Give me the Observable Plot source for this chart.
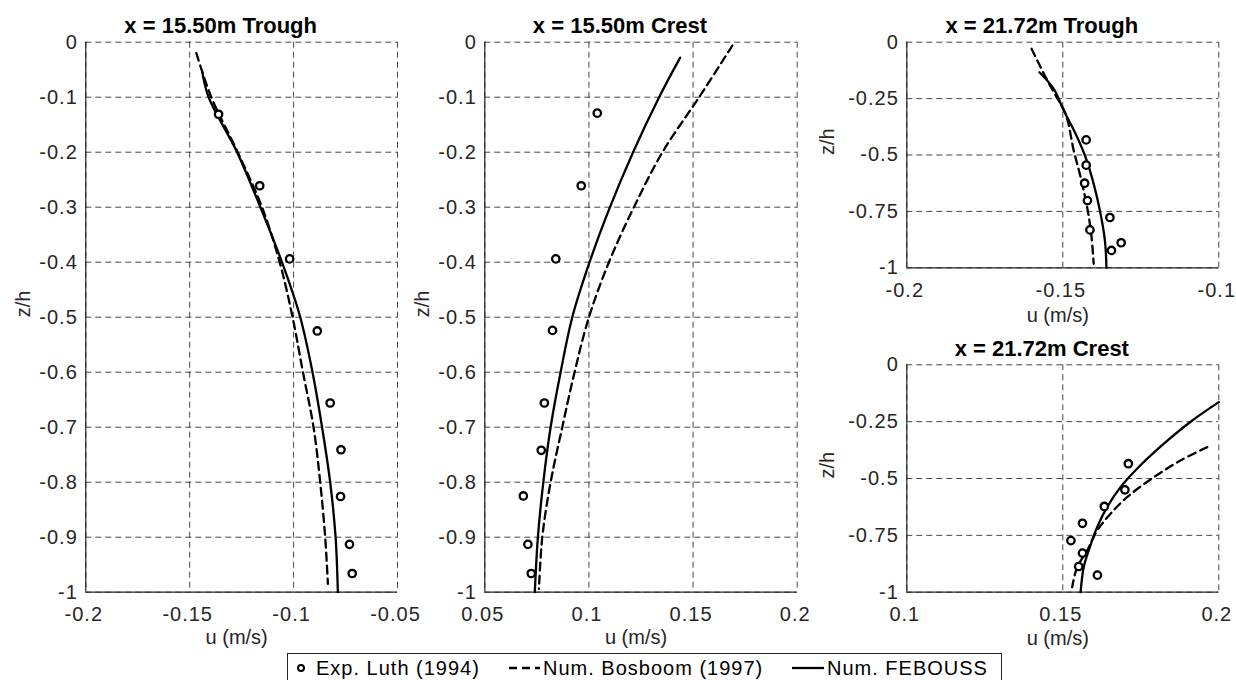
<!DOCTYPE html>
<html><head><meta charset="utf-8">
<script src="https://cdn.jsdelivr.net/npm/d3@7"></script>
<script src="https://cdn.jsdelivr.net/npm/@observablehq/plot@0.6"></script>
<style>
html,body{margin:0;padding:0;background:#fff;overflow:hidden}
#fig{position:relative;width:1236px;height:680px;overflow:hidden;font-family:"Liberation Sans",Arial,sans-serif}
.panel{position:absolute}
.panel svg{overflow:visible;display:block}
g[aria-label="x-axis tick label"] text,g[aria-label="y-axis tick label"] text,g[aria-label="axis-title"] text{letter-spacing:1px}
#legend{position:absolute;left:287px;top:653px;overflow:visible}
#legend text{font-family:"Liberation Sans",Arial,sans-serif;font-size:20px;letter-spacing:1px;fill:#000}
</style>
</head><body><div id="fig"></div>
<script>
// ---------- data ----------
// x = 15.50m Trough
const expU1 = [-0.1361,-0.1163,-0.1019,-0.0886,-0.0824,-0.0772,-0.0774,-0.0731,-0.0718];
const expZ1 = [-0.131,-0.261,-0.394,-0.525,-0.656,-0.741,-0.826,-0.913,-0.966];
const febU1 = [-0.1440,-0.1409,-0.1272,-0.1160,-0.1056,-0.0968,-0.0909,-0.0863,-0.0824,-0.0798,-0.0787];
const febZ1 = [-0.053,-0.1,-0.2,-0.3,-0.4,-0.5,-0.6,-0.7,-0.8,-0.9,-1];
const bosU1 = [-0.1468,-0.1396,-0.1269,-0.1152,-0.1067,-0.1005,-0.0955,-0.0904,-0.0872,-0.0848,-0.0835];
const bosZ1 = [-0.02,-0.1,-0.2,-0.3,-0.4,-0.5,-0.6,-0.7,-0.8,-0.9,-0.985];
// x = 15.50m Crest
const expU2 = [0.1040,0.0963,0.0841,0.0825,0.0786,0.0771,0.0685,0.0707,0.0723];
const expZ2 = [-0.129,-0.261,-0.394,-0.524,-0.656,-0.742,-0.825,-0.913,-0.966];
const febU2 = [0.1438,0.1337,0.1212,0.1101,0.1003,0.0920,0.0864,0.0816,0.0781,0.0755,0.0740];
const febZ2 = [-0.028,-0.1,-0.2,-0.3,-0.4,-0.5,-0.6,-0.7,-0.8,-0.9,-1];
const bosU2 = [0.1689,0.1529,0.1353,0.1216,0.1096,0.1000,0.0931,0.0872,0.0816,0.0776,0.0760];
const bosZ2 = [-0.006,-0.1,-0.2,-0.3,-0.4,-0.5,-0.6,-0.7,-0.8,-0.9,-0.994];
// x = 21.72m Trough
const expU3 = [-0.1425,-0.1425,-0.1430,-0.1421,-0.1349,-0.1413,-0.1313,-0.1344];
const expZ3 = [-0.433,-0.545,-0.625,-0.702,-0.777,-0.832,-0.889,-0.923];
const febU3 = [-0.1575,-0.1529,-0.1497,-0.1459,-0.1427,-0.1401,-0.1379,-0.1365,-0.1360];
const febZ3 = [-0.133,-0.207,-0.303,-0.406,-0.51,-0.628,-0.761,-0.879,-1];
const bosU3 = [-0.1600,-0.1555,-0.1529,-0.1491,-0.1465,-0.1443,-0.1422,-0.1409,-0.1401];
const bosZ3 = [-0.029,-0.155,-0.222,-0.318,-0.48,-0.598,-0.731,-0.849,-0.982];
// x = 21.72m Crest
const expU4 = [0.1710,0.1699,0.1633,0.1563,0.1526,0.1563,0.1551,0.1611];
const expZ4 = [-0.435,-0.550,-0.623,-0.697,-0.773,-0.828,-0.887,-0.925];
const febU4 = [0.2000,0.1915,0.1824,0.1738,0.1685,0.1642,0.1610,0.1583,0.1567,0.1557];
const febZ4 = [-0.164,-0.245,-0.347,-0.457,-0.538,-0.626,-0.714,-0.817,-0.89,-1];
const bosU4 = [0.1963,0.1877,0.1792,0.1706,0.1653,0.1610,0.1578,0.1546,0.1530];
const bosZ4 = [-0.362,-0.421,-0.494,-0.582,-0.655,-0.729,-0.817,-0.89,-0.978];

// titles and ticks
const titles = ["x = 15.50m Trough","x = 15.50m Crest","x = 21.72m Trough","x = 21.72m Crest"];
const xTicks1 = [-0.2,-0.15,-0.1,-0.05], xLabels1 = ["-0.2","-0.15","-0.1","-0.05"];
const xTicks2 = [0.05,0.1,0.15,0.2], xLabels2 = ["0.05","0.1","0.15","0.2"];
const xTicks3 = [-0.2,-0.15,-0.1], xLabels3 = ["-0.2","-0.15","-0.1"];
const xTicks4 = [0.1,0.15,0.2], xLabels4 = ["0.1","0.15","0.2"];
const yTicksA = [0,-0.1,-0.2,-0.3,-0.4,-0.5,-0.6,-0.7,-0.8,-0.9,-1];
const yLabelsA = ["0","-0.1","-0.2","-0.3","-0.4","-0.5","-0.6","-0.7","-0.8","-0.9","-1"];
const yTicksB = [0,-0.25,-0.5,-0.75,-1];
const yLabelsB = ["0","-0.25","-0.5","-0.75","-1"];
const xAxisLabel = "u (m/s)", yAxisLabel = "z/h";
const legendLabels = ["Exp. Luth (1994)","Num. Bosboom (1997)","Num. FEBOUSS"];

const rows = (U, Z) => U.map((u, i) => ({u, z: Z[i]}));
const fmt = (ticks, labels) => d => labels[ticks.findIndex(t => Math.abs(t - d) < 1e-9)];

function panel(o) {
  const gridStyle = {stroke: "#262626", strokeOpacity: 0.85, strokeWidth: 1, strokeDasharray: "6,4"};
  const p = Plot.plot({
    width: o.w, height: o.h,
    marginLeft: o.ml, marginRight: o.w - o.fr, marginTop: o.ft, marginBottom: o.h - o.fb,
    x: {domain: o.xd},
    y: {domain: [-1, 0]},
    style: {fontFamily: "Liberation Sans, Arial, sans-serif", fontSize: "20px", color: "#262626", background: "transparent", overflow: "visible"},
    marks: [
      Plot.gridX(o.xt, gridStyle),
      Plot.gridY(o.yt, gridStyle),
      Plot.ruleX([o.xd[0]], {stroke: "#262626", strokeWidth: 1.2}),
      Plot.ruleY([-1], {stroke: "#262626", strokeWidth: 1.2}),
      Plot.axisX(o.xt, {tickSize: 0, tickPadding: 15, dx: -2, tickFormat: fmt(o.xt, o.xl), label: null, fill: "#262626", fontSize: 20}),
      Plot.axisY(o.yt, {tickSize: 0, tickPadding: 8, tickFormat: fmt(o.yt, o.yl), label: null, fill: "#262626", fontSize: 20}),
      Plot.line(o.bos, {x: "u", y: "z", stroke: "#000", strokeWidth: 2.3, strokeDasharray: "8,5", curve: "catmull-rom"}),
      Plot.line(o.feb, {x: "u", y: "z", stroke: "#000", strokeWidth: 2.3, curve: "catmull-rom"}),
      Plot.dot(o.exp, {x: "u", y: "z", r: 3.7, stroke: "#000", strokeWidth: 2.3, fill: "#fff"}),
      Plot.text([o.title], {frameAnchor: "top", dy: -9, dx: -21, lineAnchor: "bottom", fontSize: 22, fontWeight: "bold", fill: "#000"}),
      Plot.text([xAxisLabel], {frameAnchor: "bottom", dy: o.xlDy, dx: -5, lineAnchor: "bottom", fontSize: 20, fill: "#262626", ariaLabel: "axis-title"}),
      Plot.text([yAxisLabel], {frameAnchor: "left", dx: o.ylDx, rotate: -90, lineAnchor: "bottom", fontSize: 20, fill: "#262626", ariaLabel: "axis-title"})
    ]
  });
  const d = document.createElement("div");
  d.className = "panel";
  d.style.left = o.left + "px";
  d.style.top = o.top + "px";
  d.appendChild(p);
  document.getElementById("fig").appendChild(d);
}

panel({left: 0, top: 0, w: 420, h: 650, ml: 85.3, fr: 397, ft: 41.7, fb: 591.7,
  xd: [-0.2, -0.05], xt: xTicks1, xl: xLabels1, yt: yTicksA, yl: yLabelsA,
  exp: rows(expU1, expZ1), feb: rows(febU1, febZ1), bos: rows(bosU1, bosZ1),
  title: titles[0], xlDy: 52, ylDx: -56});
panel({left: 400, top: 0, w: 420, h: 650, ml: 84.3, fr: 396.7, ft: 41.7, fb: 591.7,
  xd: [0.05, 0.2], xt: xTicks2, xl: xLabels2, yt: yTicksA, yl: yLabelsA,
  exp: rows(expU2, expZ2), feb: rows(febU2, febZ2), bos: rows(bosU2, bosZ2),
  title: titles[1], xlDy: 52, ylDx: -56});
panel({left: 820, top: 0, w: 416, h: 330, ml: 86.3, fr: 398.3, ft: 41.7, fb: 267.3,
  xd: [-0.2, -0.1], xt: xTicks3, xl: xLabels3, yt: yTicksB, yl: yLabelsB,
  exp: rows(expU3, expZ3), feb: rows(febU3, febZ3), bos: rows(bosU3, bosZ3),
  title: titles[2], xlDy: 54, ylDx: -73});
panel({left: 820, top: 330, w: 416, h: 320, ml: 86.3, fr: 398.3, ft: 34.3, fb: 261.7,
  xd: [0.1, 0.2], xt: xTicks4, xl: xLabels4, yt: yTicksB, yl: yLabelsB,
  exp: rows(expU4, expZ4), feb: rows(febU4, febZ4), bos: rows(bosU4, bosZ4),
  title: titles[3], xlDy: 53, ylDx: -73});

// ---------- legend ----------
const ns = "http://www.w3.org/2000/svg";
const lg = document.createElementNS(ns, "svg");
lg.setAttribute("id", "legend");
lg.setAttribute("width", 716);
lg.setAttribute("height", 40);
function el(tag, attrs, txt) {
  const e = document.createElementNS(ns, tag);
  for (const k in attrs) e.setAttribute(k, attrs[k]);
  if (txt) e.textContent = txt;
  lg.appendChild(e);
  return e;
}
el("rect", {x: 0.5, y: 0.5, width: 714, height: 45, fill: "#fff", stroke: "#262626", "stroke-width": 1});
el("circle", {cx: 14, cy: 15, r: 3, fill: "#fff", stroke: "#000", "stroke-width": 2});
el("text", {x: 29, y: 22}, legendLabels[0]);
el("line", {x1: 222, x2: 253, y1: 15, y2: 15, stroke: "#000", "stroke-width": 2.3, "stroke-dasharray": "8,5"});
el("text", {x: 256, y: 22}, legendLabels[1]);
el("line", {x1: 505, x2: 537, y1: 15, y2: 15, stroke: "#000", "stroke-width": 2.3});
el("text", {x: 540, y: 22}, legendLabels[2]);
document.getElementById("fig").appendChild(lg);
</script>
</body></html>
